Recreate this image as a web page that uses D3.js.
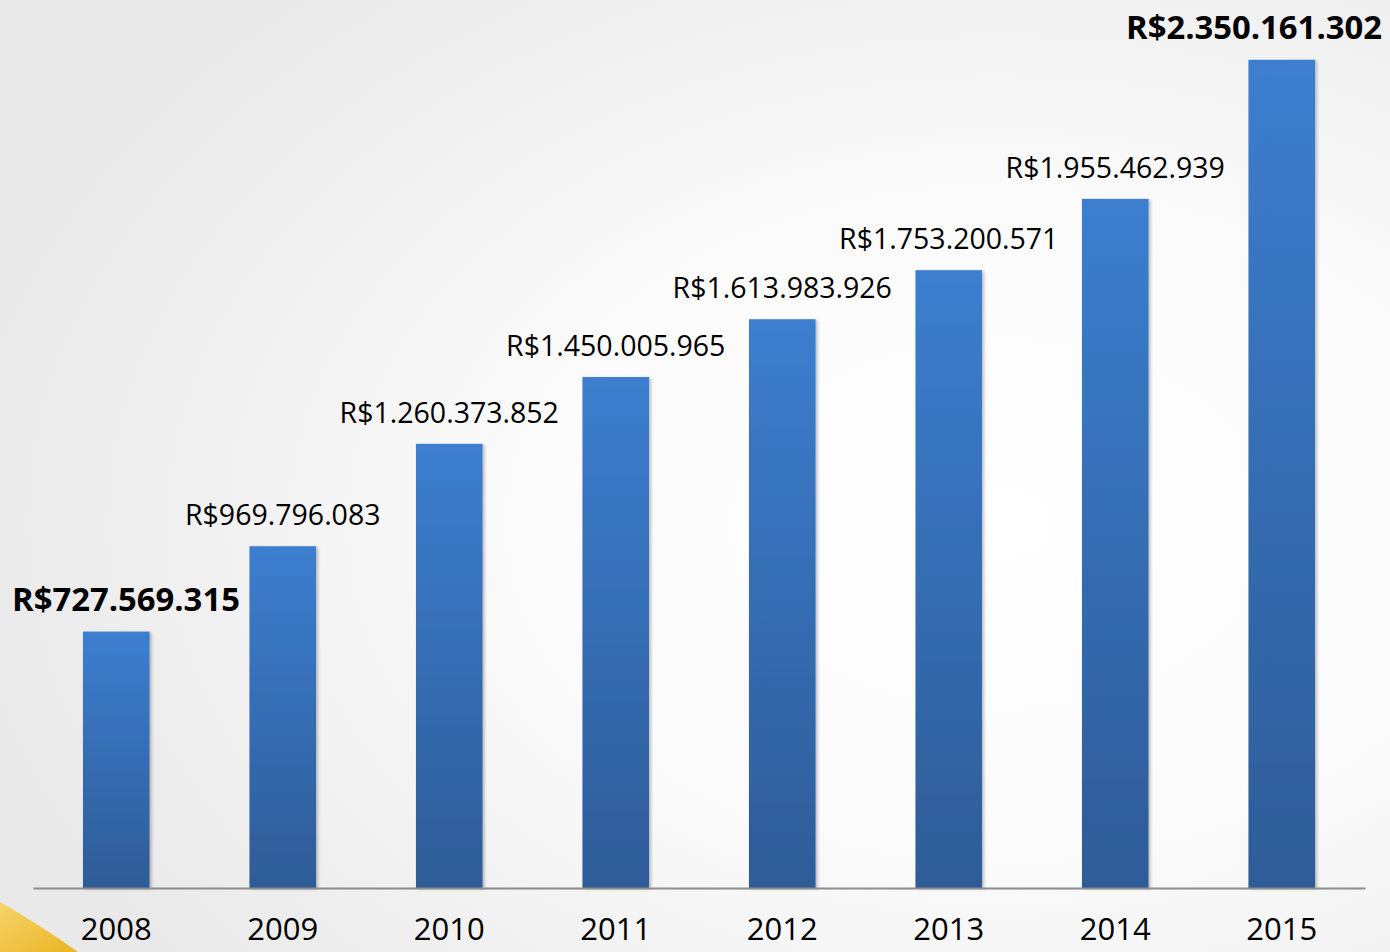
<!DOCTYPE html>
<html>
<head>
<meta charset="utf-8">
<script src="https://cdn.jsdelivr.net/npm/d3@7"></script>
<style>
  body { margin: 0; }
  svg { display: block; }
</style>
</head>
<body>
<svg width="1390" height="952"></svg>
<script>
// valores por ano (R$)
const years = ['2008', '2009', '2010', '2011', '2012', '2013', '2014', '2015'];
const values = [727569315, 969796083, 1260373852, 1450005965, 1613983926, 1753200571, 1955462939, 2350161302];
const labels = ['R$727.569.315', 'R$969.796.083', 'R$1.260.373.852', 'R$1.450.005.965',
  'R$1.613.983.926', 'R$1.753.200.571', 'R$1.955.462.939', 'R$2.350.161.302'];
// primeiro e ultimo em negrito
const boldYears = ['2008', '2015'];

const svg = d3.select('svg');
const width = +svg.attr('width');
const height = +svg.attr('height');

const data = years.map((y, i) => ({ year: y, value: values[i], label: labels[i] }));

const defs = svg.append('defs');

// fundo com gradiente radial
const bg = defs.append('radialGradient')
  .attr('id', 'bg')
  .attr('cx', '72%').attr('cy', '55%').attr('r', '75%');
bg.append('stop').attr('offset', '0%').attr('stop-color', '#ffffff');
bg.append('stop').attr('offset', '45%').attr('stop-color', '#fbfbfb');
bg.append('stop').attr('offset', '100%').attr('stop-color', '#e9e9e9');

const barGrad = defs.append('linearGradient')
  .attr('id', 'bar')
  .attr('x1', 0).attr('y1', 0).attr('x2', 0).attr('y2', 1);
barGrad.append('stop').attr('offset', '0%').attr('stop-color', '#3c7ecf');
barGrad.append('stop').attr('offset', '100%').attr('stop-color', '#2e5c97');

const shadow = defs.append('filter').attr('id', 'shadow')
  .attr('x', '-10%').attr('y', '-5%').attr('width', '130%').attr('height', '110%');
shadow.append('feDropShadow')
  .attr('dx', 2).attr('dy', 1).attr('stdDeviation', 1.5)
  .attr('flood-color', '#000').attr('flood-opacity', 0.25);

svg.append('rect')
  .attr('width', width).attr('height', height)
  .attr('fill', 'url(#bg)');

// canto amarelo (decoracao do slide)
const corner = defs.append('linearGradient').attr('id', 'corner')
  .attr('x1', 0).attr('y1', 0).attr('x2', 1).attr('y2', 1);
corner.append('stop').attr('offset', '0%').attr('stop-color', '#f7d36a');
corner.append('stop').attr('offset', '100%').attr('stop-color', '#eab524');
svg.append('path')
  .attr('d', 'M0,902 Q40,925 78,952 L0,952 Z')
  .attr('fill', 'url(#corner)');

const margin = { top: 7, right: 25, bottom: 64, left: 33 };
const innerWidth = width - margin.left - margin.right;
const innerHeight = height - margin.top - margin.bottom;

const xScale = d3.scaleBand()
  .domain(years)
  .range([0, innerWidth])
  .paddingInner(0.6)
  .paddingOuter(0.3);

const yScale = d3.scaleLinear()
  .domain([0, 2500000000])
  .range([innerHeight, 0]);

const g = svg.append('g')
  .attr('transform', `translate(${margin.left}, ${margin.top})`);

g.selectAll('rect.bar').data(data)
  .enter().append('rect')
    .attr('class', 'bar')
    .attr('x', d => xScale(d.year))
    .attr('y', d => yScale(d.value))
    .attr('width', xScale.bandwidth())
    .attr('height', d => innerHeight - yScale(d.value))
    .attr('fill', 'url(#bar)')
    .attr('filter', 'url(#shadow)');

// eixo x
const xAxis = g.append('g')
  .attr('transform', `translate(0, ${innerHeight})`)
  .call(d3.axisBottom(xScale).tickSize(0).tickPadding(0));
xAxis.select('.domain')
  .attr('stroke', '#8c8c8c')
  .attr('stroke-width', 2);
xAxis.selectAll('.tick text')
  .attr('dy', null)
  .attr('y', 52)
  .attr('fill', '#000')
  .style('font-family', '"Open Sans", sans-serif')
  .style('font-size', '31px');

// rotulos de valor
const lbl = g.selectAll('text.val').data(data)
  .enter().append('text')
    .attr('class', 'val')
    .attr('x', d => xScale(d.year) + xScale.bandwidth() / 2)
    .attr('y', d => yScale(d.value) - 21)
    .attr('text-anchor', 'middle')
    .attr('fill', '#000')
    .style('font-family', '"Open Sans", sans-serif')
    .style('font-weight', d => boldYears.includes(d.year) ? 700 : 400)
    .style('font-size', d => boldYears.includes(d.year) ? '32.8px' : '28.5px')
    .text(d => d.label);

// manter os rotulos dentro da area visivel
lbl.each(function() {
  const t = d3.select(this);
  const w = this.getComputedTextLength();
  const cx = +t.attr('x');
  const minX = 12 - margin.left + w / 2;
  const maxX = width - 8 - margin.left - w / 2;
  t.attr('x', Math.max(minX, Math.min(maxX, cx)));
});
</script>
</body>
</html>
